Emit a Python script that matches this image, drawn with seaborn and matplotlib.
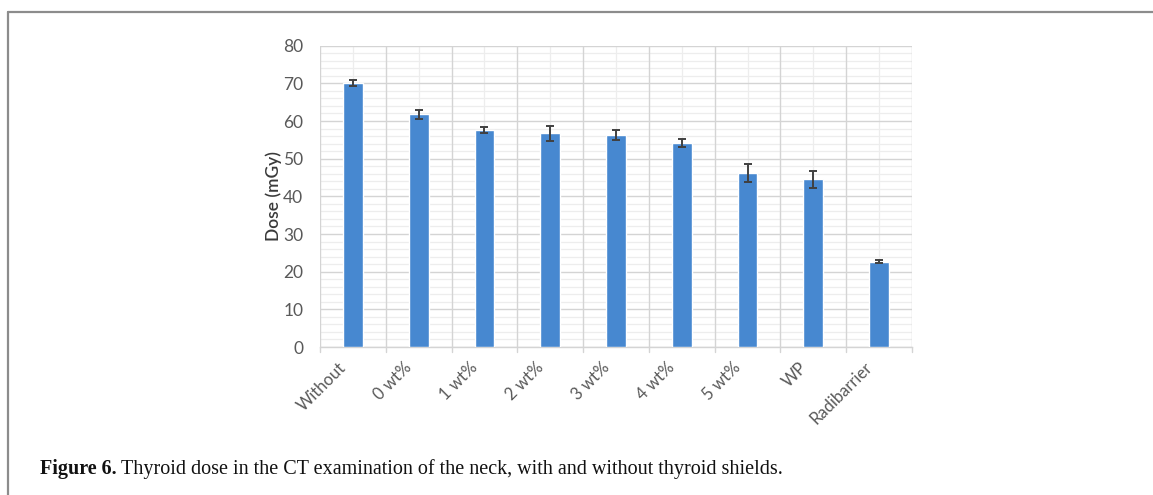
import matplotlib
matplotlib.use("Agg")
import matplotlib.pyplot as plt
from matplotlib.lines import Line2D
from matplotlib.ticker import MultipleLocator, FixedLocator
from matplotlib.transforms import ScaledTranslation
import numpy as np
import pandas as pd
import seaborn as sns

# Thyroid dose per shielding condition (mean and error)
categories = ["Without", "0 wt%", "1 wt%", "2 wt%", "3 wt%", "4 wt%", "5 wt%", "WP", "Radibarrier"]
dose_mgy = [70.0, 61.8, 57.6, 56.7, 56.2, 54.2, 46.1, 44.5, 22.7]
dose_err = [0.8, 1.15, 0.7, 2.0, 1.35, 1.1, 2.4, 2.35, 0.5]
y_ticks = [0, 10, 20, 30, 40, 50, 60, 70, 80]

sns.set_theme(style="white")
plt.rcParams["font.family"] = ["Lato", "DejaVu Sans"]

df = pd.DataFrame({"shield": categories, "dose": dose_mgy})

fig = plt.figure(figsize=(11.53, 4.95), dpi=100)
ax = fig.add_axes([320 / 1153, 148 / 495, 592 / 1153, 301.3 / 495])

major_grid = "#d4d4d4"
minor_grid = "#ededed"
ax.set_axisbelow(True)

sns.barplot(data=df, x="shield", y="dose", order=categories, color="#4788d0",
            width=0.30, saturation=1, errorbar=None, ax=ax, zorder=3)

ax.errorbar(np.arange(len(categories)), dose_mgy, yerr=dose_err, fmt="none",
            ecolor="#404040", elinewidth=1.4, capsize=3, capthick=1.4, zorder=4)

ax.set_xlim(-0.5, len(categories) - 0.5)
ax.set_ylim(0, 80)
ax.set_yticks(y_ticks)
ax.yaxis.set_minor_locator(MultipleLocator(2))

# Vertical grid: major lines between categories, minor lines through bar centres
ax.xaxis.set_major_locator(FixedLocator(np.arange(len(categories))))
ax.set_xticklabels(categories)
boundaries = np.arange(-0.5, len(categories), 1.0)
for b in boundaries:
    ax.axvline(b, color=major_grid, lw=1.0, zorder=1)
for c in range(len(categories)):
    ax.axvline(c, color=minor_grid, lw=0.9, zorder=0.5)

ax.grid(axis="y", which="major", color=major_grid, lw=1.0, zorder=1)
ax.grid(axis="y", which="minor", color=minor_grid, lw=0.9, zorder=0.5)
ax.grid(axis="x", which="both", visible=False)

for side in ["top", "right", "left"]:
    ax.spines[side].set_visible(False)
ax.spines["bottom"].set_color(major_grid)
ax.spines["bottom"].set_linewidth(1.0)

# Small outward ticks at category boundaries on the baseline
for b in boundaries:
    ax.plot([b, b], [0, -1.2], color=major_grid, lw=1.0, clip_on=False, zorder=1)

ax.tick_params(axis="x", length=0, pad=9, labelsize=12, labelcolor="#595959")
ax.tick_params(axis="y", length=0, pad=12, labelsize=12.5, labelcolor="#595959")
shift = ScaledTranslation(-15 / 100, 0, fig.dpi_scale_trans)
for lbl in ax.get_xticklabels():
    lbl.set_rotation(45)
    lbl.set_ha("right")
    lbl.set_rotation_mode("anchor")
    lbl.set_transform(lbl.get_transform() + shift)

ax.set_xlabel("")
ax.set_ylabel("Dose (mGy)", fontsize=12.5, color="#3a3a3a", fontweight="semibold", labelpad=1)

# Page frame lines (top and left)
fig.add_artist(Line2D([8 / 1153, 1.0], [1 - 12 / 495, 1 - 12 / 495], color="#8c8c8c", lw=1.6,
                      transform=fig.transFigure))
fig.add_artist(Line2D([8 / 1153, 8 / 1153], [0.0, 1 - 12 / 495], color="#8c8c8c", lw=1.6,
                      transform=fig.transFigure))

# Caption
cap_y = 1 - 474 / 495
serif = ["Liberation Serif", "DejaVu Serif"]
t1 = fig.text(40 / 1153, cap_y, "Figure 6.", family=serif, fontweight="bold",
              fontsize=14.5, color="#111111", va="baseline")
fig.canvas.draw()
bb = t1.get_window_extent(fig.canvas.get_renderer())
fig.text(bb.x1 / fig.bbox.width + 4 / 1153, cap_y,
         "Thyroid dose in the CT examination of the neck, with and without thyroid shields.",
         family=serif, fontsize=14.5, color="#111111", va="baseline")

fig.savefig("out.png", dpi=100)
